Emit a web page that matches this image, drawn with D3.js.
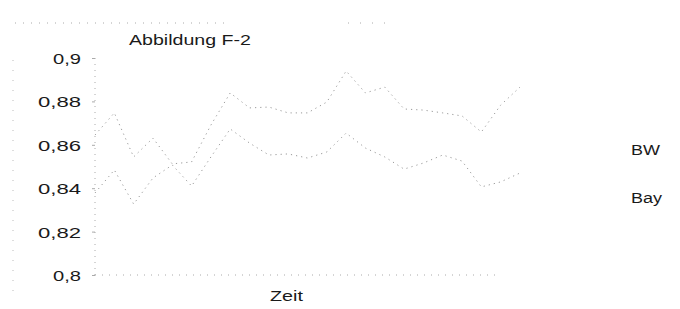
<!DOCTYPE html>
<html>
<head>
<meta charset="utf-8">
<script src="https://cdn.jsdelivr.net/npm/d3@7"></script>
<style>
  html, body { margin: 0; padding: 0; background: #fff; }
  svg { display: block; }
  text { font-family: "Liberation Sans", Arial, sans-serif; fill: #1a1a1a; }
</style>
</head>
<body>
<svg id="chart" width="680" height="309"></svg>
<script>
// Zeitpunkte (ohne Beschriftung auf der Achse)
const periods = d3.range(1, 24);
// Reihe BW
const bwValues = [0.8645, 0.8747, 0.8544, 0.8631, 0.8512, 0.8521, 0.8691, 0.8839, 0.8770, 0.8774, 0.8747, 0.8747,
                  0.8797, 0.8940, 0.8839, 0.8866, 0.8765, 0.8760, 0.8747, 0.8733, 0.8659, 0.8783, 0.8866];
// Reihe Bay
const bayValues = [0.8378, 0.8484, 0.8327, 0.8447, 0.8507, 0.8410, 0.8544, 0.8673, 0.8608, 0.8553, 0.8558, 0.8539,
                   0.8567, 0.8654, 0.8585, 0.8544, 0.8488, 0.8516, 0.8553, 0.8525, 0.8406, 0.8429, 0.8470];
const seriesNames = ["BW", "Bay"];
const yTicks = [0.8, 0.82, 0.84, 0.86, 0.88, 0.9];
const yTickLabels = ["0,8", "0,82", "0,84", "0,86", "0,88", "0,9"];
const title = "Abbildung F-2";
const xTitle = "Zeit";

const svg = d3.select("#chart");

const x = d3.scalePoint().domain(periods).range([95, 520]);
const y = d3.scaleLinear().domain([0.8, 0.9]).range([275, 58]);

// faint scan frame remnants
svg.append("line").attr("x1", 15).attr("x2", 225).attr("y1", 23).attr("y2", 23)
  .attr("stroke", "#aaa").attr("stroke-width", 1).attr("stroke-dasharray", "1 7");
svg.append("line").attr("x1", 348).attr("x2", 385).attr("y1", 23).attr("y2", 23)
  .attr("stroke", "#aaa").attr("stroke-width", 1).attr("stroke-dasharray", "1 11");
svg.append("line").attr("x1", 13).attr("x2", 13).attr("y1", 60).attr("y2", 292)
  .attr("stroke", "#bbb").attr("stroke-width", 1).attr("stroke-dasharray", "1 9");

// y axis
const yAxis = d3.axisLeft(y).tickValues(yTicks).tickSize(3).tickFormat((d, i) => yTickLabels[i]);
const gy = svg.append("g").attr("transform", "translate(95,0)").call(yAxis);
gy.select(".domain").attr("stroke", "#aaa").attr("stroke-dasharray", "1 5").attr("d", "M0,58V275");
gy.selectAll(".tick line").attr("stroke", "#aaa");
gy.selectAll(".tick text")
  .attr("x", -14).attr("dy", "0.36em")
  .style("font-size", "15px")
  .attr("fill", "#222")
  .attr("textLength", (d, i) => yTickLabels[i].length === 3 ? 28 : 43)
  .attr("lengthAdjust", "spacingAndGlyphs");

// x axis
const xAxis = d3.axisBottom(x).tickValues([]).tickSize(0);
const gx = svg.append("g").attr("transform", "translate(0,275)").call(xAxis);
gx.select(".domain").attr("stroke", "#aaa").attr("stroke-dasharray", "1 6").attr("d", "M95,0H498");

// lines
const line = d3.line().x((d, i) => x(periods[i])).y(d => y(d));
const seriesData = [bwValues, bayValues];
svg.selectAll("path.series").data(seriesData).join("path")
  .attr("class", "series")
  .attr("d", line)
  .attr("fill", "none")
  .attr("stroke", "#9a9a9a")
  .attr("stroke-width", 1)
  .attr("stroke-dasharray", "1.2 4");

// labels
svg.append("text").attr("x", 129).attr("y", 45).text(title)
  .style("font-size", "15px").attr("fill", "#222").attr("textLength", 122).attr("lengthAdjust", "spacingAndGlyphs");
svg.append("text").attr("x", 270).attr("y", 301).text(xTitle)
  .style("font-size", "15px").attr("fill", "#222").attr("textLength", 33).attr("lengthAdjust", "spacingAndGlyphs");
const labelY = [155, 203];
svg.selectAll("text.lab").data(seriesNames).join("text")
  .attr("class", "lab")
  .attr("x", 631).attr("y", (d, i) => labelY[i])
  .text(d => d)
  .style("font-size", "14px")
  .attr("fill", "#222")
  .attr("textLength", (d, i) => i === 0 ? 29 : 31)
  .attr("lengthAdjust", "spacingAndGlyphs");
</script>
</body>
</html>
